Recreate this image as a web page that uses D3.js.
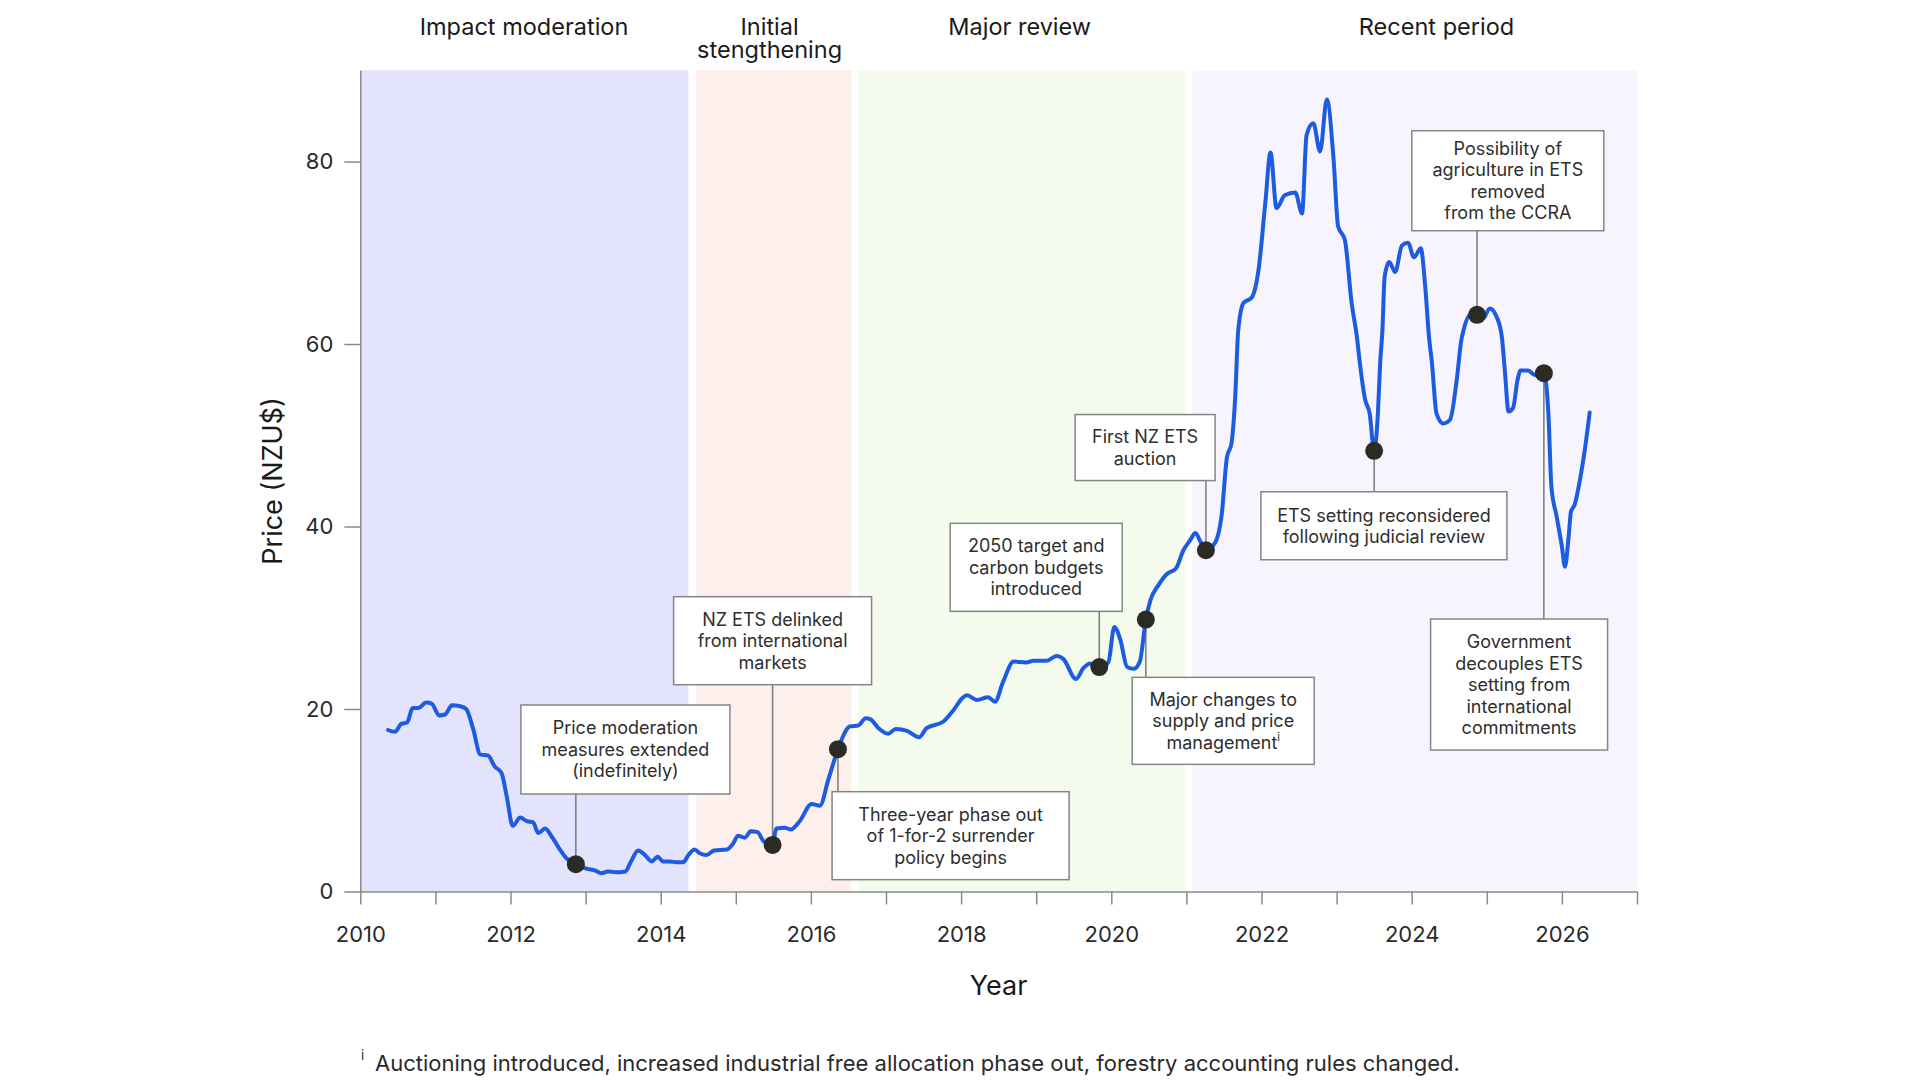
<!DOCTYPE html>
<html>
<head>
<meta charset="utf-8">
<script src="https://cdn.jsdelivr.net/npm/d3@7"></script>
<style>
  html, body { margin: 0; padding: 0; background: #fff; }
  svg { display: block; font-family: Inter, "Noto Sans", sans-serif; }
</style>
</head>
<body>
<svg id="chart" width="1920" height="1080"></svg>
<script>
// ---------------- DATA ----------------
const years = [
  2010.37, 2010.46, 2010.55, 2010.62, 2010.70, 2010.77, 2010.88, 2010.95, 2011.05, 2011.13,
  2011.22, 2011.33, 2011.41, 2011.50, 2011.60, 2011.70, 2011.79, 2011.88, 2011.95, 2012.03,
  2012.13, 2012.22, 2012.30, 2012.37, 2012.46, 2012.55, 2012.65, 2012.75, 2012.87, 2013.01,
  2013.13, 2013.21, 2013.30, 2013.41, 2013.53, 2013.60, 2013.70, 2013.79, 2013.88, 2013.96,
  2014.03, 2014.12, 2014.21, 2014.30, 2014.37, 2014.45, 2014.52, 2014.61, 2014.71, 2014.88,
  2014.96, 2015.03, 2015.12, 2015.20, 2015.29, 2015.37, 2015.49, 2015.54, 2015.65, 2015.73,
  2015.85, 2016.01, 2016.12, 2016.23, 2016.36, 2016.52, 2016.63, 2016.73, 2016.79, 2016.90,
  2017.03, 2017.13, 2017.28, 2017.44, 2017.54, 2017.76, 2017.90, 2018.03, 2018.08, 2018.21,
  2018.36, 2018.45, 2018.56, 2018.70, 2018.87, 2018.96, 2019.14, 2019.27, 2019.36, 2019.53,
  2019.63, 2019.72, 2019.84, 2019.96, 2020.04, 2020.12, 2020.21, 2020.30, 2020.38, 2020.46,
  2020.52, 2020.63, 2020.74, 2020.86, 2020.96, 2021.05, 2021.12, 2021.19, 2021.26, 2021.38,
  2021.47, 2021.54, 2021.60, 2021.65, 2021.69, 2021.76, 2021.87, 2021.96, 2022.05, 2022.12,
  2022.20, 2022.31, 2022.45, 2022.54, 2022.60, 2022.69, 2022.78, 2022.87, 2022.96, 2023.02,
  2023.11, 2023.20, 2023.27, 2023.31, 2023.38, 2023.44, 2023.50, 2023.55, 2023.58, 2023.61,
  2023.64, 2023.70, 2023.78, 2023.87, 2023.95, 2024.03, 2024.12, 2024.18, 2024.23, 2024.27,
  2024.33, 2024.42, 2024.51, 2024.60, 2024.66, 2024.69, 2024.78, 2024.87, 2024.95, 2025.04,
  2025.13, 2025.20, 2025.24, 2025.29, 2025.35, 2025.41, 2025.45, 2025.55, 2025.64, 2025.76,
  2025.82, 2025.86, 2025.93, 2026.00, 2026.04, 2026.09, 2026.12, 2026.17, 2026.24, 2026.31,
  2026.37
];
const prices = [
  17.7, 17.5, 18.4, 18.5, 20.1, 20.1, 20.7, 20.6, 19.3, 19.4,
  20.4, 20.3, 20.0, 17.9, 15.0, 14.9, 13.7, 13.0, 10.4, 7.2,
  8.1, 7.7, 7.6, 6.4, 6.9, 6.0, 4.7, 3.6, 3.0, 2.5,
  2.3, 2.0, 2.2, 2.1, 2.2, 3.2, 4.5, 4.0, 3.3, 3.8,
  3.3, 3.3, 3.2, 3.2, 4.0, 4.6, 4.2, 4.0, 4.5, 4.6,
  5.2, 6.1, 5.9, 6.6, 6.5, 5.5, 5.1, 6.9, 7.0, 6.8,
  7.7, 9.6, 9.4, 12.2, 15.6, 18.1, 18.2, 19.0, 18.9, 17.9,
  17.3, 17.8, 17.6, 16.9, 17.9, 18.6, 19.9, 21.3, 21.5, 21.0,
  21.3, 20.8, 23.0, 25.2, 25.1, 25.3, 25.3, 25.8, 25.5, 23.3,
  24.5, 25.0, 24.6, 25.1, 29.0, 27.6, 24.6, 24.4, 25.2, 29.8,
  31.9, 33.6, 34.8, 35.4, 37.4, 38.5, 39.3, 38.3, 37.4, 38.2,
  41.3, 47.6, 49.1, 54.2, 61.5, 64.5, 65.1, 68.1, 75.4, 81.0,
  74.9, 76.3, 76.6, 74.3, 82.9, 84.2, 81.1, 86.8, 80.2, 72.9,
  71.4, 64.5, 60.8, 57.9, 53.9, 52.4, 48.3, 52.4, 57.9, 61.5,
  67.4, 69.0, 67.9, 70.8, 71.1, 69.5, 70.5, 66.3, 60.8, 57.9,
  52.4, 51.3, 51.7, 56.1, 60.4, 61.5, 63.2, 63.2, 62.8, 63.9,
  63.0, 60.8, 57.1, 52.6, 53.0, 56.1, 57.1, 57.1, 56.6, 56.8,
  52.4, 44.4, 41.1, 37.8, 35.6, 38.9, 41.6, 42.4, 45.1, 48.7,
  52.5
];

const periodNames = [["Impact moderation"], ["Initial", "stengthening"], ["Major review"], ["Recent period"]];
const periodStart = [2010, 2014.47, 2016.63, 2021.08];
const periodEnd   = [2014.37, 2016.54, 2020.99, 2027];

const eventYears  = [2012.87, 2015.49, 2016.36, 2019.84, 2020.46, 2021.26, 2023.50, 2024.87, 2025.76];
const eventPrices = [3.0, 5.1, 15.6, 24.6, 29.8, 37.4, 48.3, 63.2, 56.8];
const eventLabels = [
  ["Price moderation", "measures extended", "(indefinitely)"],
  ["NZ ETS delinked", "from international", "markets"],
  ["Three-year phase out", "of 1-for-2 surrender", "policy begins"],
  ["2050 target and", "carbon budgets", "introduced"],
  ["Major changes to", "supply and price", "management^i"],
  ["First NZ ETS", "auction"],
  ["ETS setting reconsidered", "following judicial review"],
  ["Possibility of", "agriculture in ETS", "removed", "from the CCRA"],
  ["Government", "decouples ETS", "setting from", "international", "commitments"]
];

const xTickYears = d3.range(2010, 2028);
const yTickValues = [0, 20, 40, 60, 80];
const xAxisTitle = "Year";
const yAxisTitle = "Price (NZU$)";
const footnoteMark = "i";
const footnoteText = "Auctioning introduced, increased industrial free allocation phase out, forestry accounting rules changed.";

// ---------------- LAYOUT / STYLE ----------------
const periodColors = ["#e3e3fd", "#fcefec", "#f4fbec", "#f8f4fe"];
const periodTitleYear = [2012.18, 2015.45, 2018.78, 2024.33];
// box centre (year), box top (price), width & height (px)
const boxLayout = [
  { cx: 2013.53, top: 20.44, w: 209, h: 89 },
  { cx: 2015.49, top: 32.31, w: 198, h: 88 },
  { cx: 2017.86, top: 10.94, w: 237, h: 88 },
  { cx: 2019.00, top: 40.35, w: 172, h: 88 },
  { cx: 2021.49, top: 23.47, w: 182, h: 87 },
  { cx: 2020.45, top: 52.27, w: 140, h: 66 },
  { cx: 2023.63, top: 43.81, w: 246, h: 68 },
  { cx: 2025.28, top: 83.38, w: 192, h: 100 },
  { cx: 2025.43, top: 29.86, w: 177, h: 131 }
];

const svg = d3.select("#chart");
const x = d3.scaleLinear().domain([2010, 2027]).range([360.3, 1637]);
const y = d3.scaleLinear().domain([0, 90]).range([891.5, 70.3]);

// Period bands
svg.append("g").selectAll("rect")
  .data(periodStart.map((s, i) => ({ s, e: periodEnd[i], c: periodColors[i] })))
  .join("rect")
  .attr("x", d => x(d.s)).attr("width", d => x(d.e) - x(d.s))
  .attr("y", y(90)).attr("height", y(0) - y(90))
  .attr("fill", d => d.c);

// Period titles
const titles = svg.append("g").attr("font-size", 23.5).attr("fill", "#1a1a1a").attr("text-anchor", "middle");
periodNames.forEach((lines, i) => {
  lines.forEach((l, j) => titles.append("text")
    .attr("x", x(periodTitleYear[i])).attr("y", 34.5 + j * 23.5).text(l));
});

// Axes
const xAxis = svg.append("g").attr("transform", `translate(0,${y(0)})`)
  .call(d3.axisBottom(x).tickValues(xTickYears).tickSize(13).tickSizeOuter(0).tickPadding(22)
    .tickFormat(d => d % 2 === 0 ? String(d) : ""));
const yAxis = svg.append("g").attr("transform", `translate(${x(2010)},0)`)
  .call(d3.axisLeft(y).tickValues(yTickValues).tickSize(16).tickSizeOuter(0).tickPadding(11));
[xAxis, yAxis].forEach(g => {
  g.selectAll("path, line").attr("stroke", "#8a8a8a").attr("stroke-width", 1.5);
  g.selectAll("text").attr("font-size", 22).attr("fill", "#2a2a2a").attr("font-family", "Inter, sans-serif");
});

// Axis titles
svg.append("text").attr("x", (x(2010) + x(2027)) / 2).attr("y", 995)
  .attr("text-anchor", "middle").attr("font-size", 27).attr("fill", "#1a1a1a").text(xAxisTitle);
svg.append("text")
  .attr("transform", `translate(282,${(y(0) + y(90)) / 2}) rotate(-90)`)
  .attr("text-anchor", "middle").attr("font-size", 27).attr("fill", "#1a1a1a").text(yAxisTitle);

// Leader lines (drawn first)
const ann = svg.append("g");
eventYears.forEach((ey, i) => {
  const b = boxLayout[i];
  const py = y(eventPrices[i]);
  const topPx = y(b.top);
  const edge = topPx > py ? topPx : topPx + b.h;
  ann.append("line").attr("x1", x(ey)).attr("x2", x(ey)).attr("y1", py).attr("y2", edge)
    .attr("stroke", "#7a7a7a").attr("stroke-width", 1.5);
});

// Price line
svg.append("path")
  .datum(years.map((yr, i) => [yr, prices[i]]))
  .attr("fill", "none").attr("stroke", "#1d5ce0").attr("stroke-width", 4)
  .attr("stroke-linejoin", "round").attr("stroke-linecap", "round")
  .attr("d", d3.line().x(d => x(d[0])).y(d => y(d[1])).curve(d3.curveMonotoneX));

// Event dots
svg.append("g").selectAll("circle")
  .data(eventYears.map((ey, i) => [ey, eventPrices[i]]))
  .join("circle")
  .attr("cx", d => x(d[0])).attr("cy", d => y(d[1])).attr("r", 9)
  .attr("fill", "#2b2b26");

// Annotation boxes
eventLabels.forEach((lines, i) => {
  const b = boxLayout[i];
  const left = x(b.cx) - b.w / 2;
  const top = y(b.top);
  ann.append("rect").attr("x", left).attr("y", top).attr("width", b.w).attr("height", b.h)
    .attr("fill", "#fff").attr("stroke", "#858585").attr("stroke-width", 1.5);
  const lh = 21.5;
  const mid = top + b.h / 2;
  const t = ann.append("text").attr("text-anchor", "middle").attr("font-size", 18)
    .attr("fill", "#2e2e2e");
  lines.forEach((l, j) => {
    const by = mid + (j - (lines.length - 1) / 2) * lh + 6.5;
    const sup = l.indexOf("^");
    if (sup >= 0) {
      const base = l.slice(0, sup), s = l.slice(sup + 1);
      const tt = ann.append("text").attr("x", x(b.cx)).attr("y", by).attr("text-anchor", "middle")
        .attr("font-size", 18).attr("fill", "#2e2e2e");
      tt.append("tspan").text(base);
      tt.append("tspan").attr("font-size", 11).attr("dy", -8).text(s);
    } else {
      t.append("tspan").attr("x", x(b.cx)).attr("y", by).text(l);
    }
  });
});

// Footnote
svg.append("text").attr("x", 361).attr("y", 1060).attr("font-size", 13).attr("fill", "#2a2a2a").text(footnoteMark);
svg.append("text").attr("x", 375).attr("y", 1070.5).attr("font-size", 22).attr("fill", "#2a2a2a").text(footnoteText);
</script>
</body>
</html>
